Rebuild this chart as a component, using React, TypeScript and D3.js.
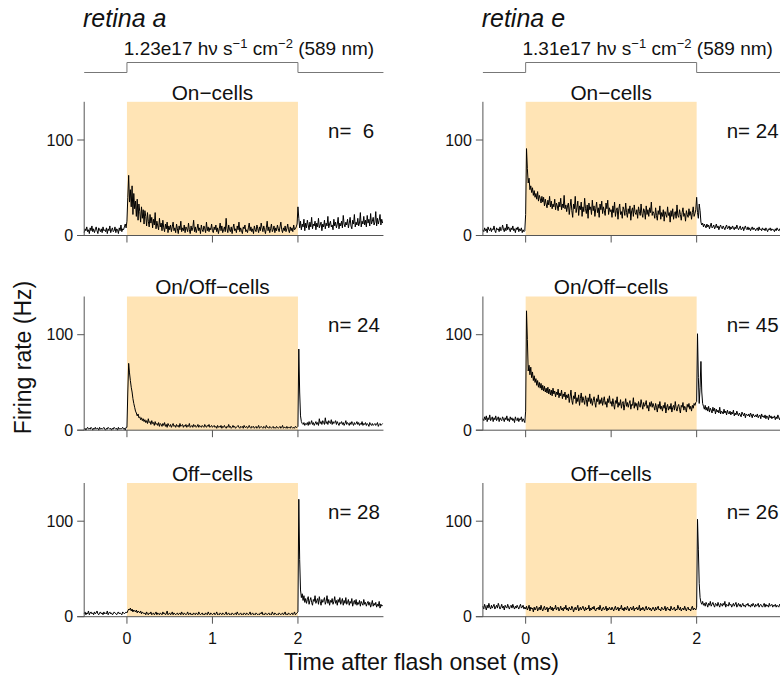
import React from "react";
import * as d3 from "d3";

// ---------- data (firing rate, Hz; 10 ms bins) ----------
const BIN = 0.01;
const cellTypes = ["On\u2212cells", "On/Off\u2212cells", "Off\u2212cells"];
const retinaNames = ["retina a", "retina e"];
const fluxLabels = ["1.23e17", "1.31e17"];
const nA = [6, 24, 28];
const nE = [24, 45, 26];
const xTicks = [0, 1, 2];
const yTicks = [0, 100];

// retina a, On-cells
const preA_on = [3,7,5,9,4,6,2,8,5,10,4,7,3,6,9,5,2,8,6,4,7,3,9,5,6,
  4,8,2,7,5,10,3,6,8,4,5,9,3,7,6,2,8,5,11,4,7,6,9,12,8];
const stimA_on = [15,40,63,35,48,30,52,22,44,28, 36,20,38,16,33,25,14,30,18,27,
  12,26,20,10,24,15,9,22,13,19, 8,17,11,24,7,15,10,6,18,9, 13,5,16,8,4,12,7,14,3,10,
  6,11,4,9,14,5,8,3,12,7, 2,10,6,15,4,8,5,11,3,9, 7,4,13,6,2,10,5,8,16,4, 9,3,7,12,5,8,2,11,6,4, 10,7,3,14,5,9,4,8,6,12,
  5,3,9,6,11,4,8,2,7,13, 5,10,3,6,9,4,18,7,3,11, 6,4,9,2,8,12,5,7,3,10, 6,14,4,8,5,2,9,7,11,4, 6,3,8,13,5,9,4,7,2,10,
  6,4,11,7,3,9,5,13,8,4, 10,6,2,8,15,5,9,3,7,12, 4,6,10,3,8,5,11,7,4,9, 14,6,3,8,5,10,4,7,12,6, 3,9,5,8,4,11,6,7,9,12];
const postA_on = [30,18,8,15,6,12,9,17,5,13, 8,16,11,6,14,9,19,7,12,10, 15,6,13,9,18,8,11,14,5,12,
  9,16,7,13,10,20,8,12,15,9, 11,6,17,10,14,8,12,19,7,13, 10,15,8,21,12,9,14,11,17,8,
  13,19,10,7,16,12,22,9,14,11, 18,10,13,24,9,15,12,20,11,16, 9,21,13,17,10,23,12,15,19,11,
  14,25,10,18,12,16,22,11,17,13];

// retina a, On/Off-cells
const preA_onoff = [1,2,0,2,3,1,2,1,3,2, 0,2,1,3,1,2,2,0,3,1, 2,1,2,3,1,0,2,1,3,2,
  1,2,0,2,1,3,2,1,2,0, 3,1,2,1,2,3,1,2,0,3];
const stimA_onoff = [3,40,70,60,52,45,40,33,28,24, 20,18,15,17,13,14,11,13,10,12,
  9,11,8,10,7,12,8,9,6,10, 7,8,5,9,6,7,5,8,4,7, 6,4,7,5,8,4,6,3,7,5,
  4,6,3,5,7,4,5,3,6,4, 5,3,7,4,5,6,3,5,4,6, 3,5,4,7,3,4,5,3,6,4, 5,3,4,6,3,5,4,3,5,4, 3,6,4,3,5,4,6,3,4,5,
  3,4,5,3,4,2,5,3,4,3, 5,2,4,3,5,3,2,4,3,6, 3,4,2,3,5,3,4,2,3,4, 5,3,2,4,3,4,2,5,3,3, 4,2,3,5,3,2,4,3,4,2,
  3,4,2,3,5,2,3,4,3,2, 4,3,2,5,3,3,2,4,3,2, 3,4,2,3,2,4,3,2,3,4, 2,3,5,2,3,3,2,4,2,3, 3,2,4,3,2,3,2,4,3,3];
const postA_onoff = [4,85,40,15,9,7,6,8,5,7, 6,8,5,9,6,7,10,6,8,5, 7,9,6,8,5,12,7,9,6,10,
  8,6,13,7,9,6,10,8,7,11, 6,9,7,8,10,6,9,7,5,8, 7,9,6,8,5,7,10,6,8,7,
  5,8,6,9,7,5,8,6,7,9, 6,8,5,7,6,9,5,7,6,8, 5,7,6,4,8,6,5,7,5,6, 7,5,6,8,4,6,7,5,6,7];

// retina a, Off-cells
const preA_off = [3,5,2,4,3,6,2,4,5,3, 4,2,5,3,4,6,3,2,4,5, 3,4,2,5,3,4,3,6,2,4,
  5,3,4,2,3,5,4,3,2,4, 5,3,4,3,2,5,4,3,4,5];
const stimA_off = [4,6,8,7,9,6,8,5,7,6, 5,7,4,6,5,4,6,3,5,4,
  3,4,2,5,3,2,4,3,5,2, 3,4,2,3,5,2,4,3,2,4, 3,2,5,3,4,2,3,6,2,3, 4,2,3,5,2,4,3,2,3,4,
  2,3,4,2,5,3,2,4,3,2, 3,5,2,3,4,2,3,2,4,3, 2,4,3,2,5,3,2,3,4,2, 3,2,4,3,2,5,3,2,4,3,
  2,3,4,2,3,5,2,3,2,4, 3,2,4,3,2,3,5,2,3,4, 2,3,2,4,3,2,3,4,2,5, 3,2,3,4,2,3,2,4,3,2, 4,3,2,3,5,2,3,4,2,3,
  2,4,3,2,3,2,4,3,5,2, 3,2,4,3,2,3,4,2,3,2, 5,3,2,4,3,2,3,2,4,3, 2,3,4,2,3,5,2,3,2,4, 3,2,3,4,2,3,5,2,3,4];
const postA_off = [5,123,60,28,20,24,17,22,15,19, 14,18,21,13,17,20,15,12,18,16, 22,14,17,19,13,21,16,12,18,15,
  17,20,13,16,22,14,18,12,17,15, 19,13,16,21,14,17,12,18,15,20, 13,16,19,12,17,14,20,13,15,18,
  12,16,14,19,11,15,17,13,18,12, 15,13,17,11,16,14,12,18,13,15, 11,14,16,12,15,10,13,17,11,14,
  12,15,10,13,11,16,9,13,11,12];

// retina e, On-cells
const preE_on = [6,4,8,5,7,3,9,6,5,8, 4,7,6,10,5,3,8,6,7,4, 9,5,6,11,7,4,8,5,12,6,
  9,7,4,8,6,10,5,7,3,8, 6,9,4,7,5,8,3,6,4,5];
const stimE_on = [22,91,70,55,60,48,52,45,50,42, 47,40,44,38,46,36,42,39,34,41,
  35,40,31,38,33,29,37,32,41,30, 36,28,33,30,38,27,34,31,26,35, 30,39,27,33,29,42,28,32,25,31,
  34,22,30,38,26,19,33,28,41,24, 29,36,21,31,27,35,20,30,25,39, 28,23,32,18,34,27,30,22,37,26, 31,20,28,35,24,29,19,33,27,36, 23,30,26,21,34,28,37,22,29,25,
  27,19,31,24,35,20,26,29,17,28, 33,22,25,18,30,27,21,34,24,19, 28,23,31,16,26,29,20,32,24,22, 27,18,30,25,21,33,23,19,28,26, 17,31,22,27,20,29,24,35,21,25,
  23,18,29,21,16,26,22,31,17,24, 20,27,15,25,22,19,30,21,24,14, 26,20,28,17,23,25,18,32,21,19, 27,22,16,24,29,20,23,15,26,22, 19,28,21,25,17,24,30,20,23,27];
const postE_on = [40,24,18,33,26,14,11,13,9,12, 10,8,12,9,11,7,10,13,8,9, 11,7,9,12,8,10,6,9,11,8,
  7,10,8,6,9,11,7,8,10,6, 9,7,10,8,6,9,7,11,8,6, 8,10,6,7,9,5,8,10,7,6,
  9,6,8,5,7,9,6,8,7,5, 7,8,5,9,6,7,5,8,6,7, 5,8,6,4,7,6,8,5,7,6, 6,4,7,5,8,6,5,7,4,6];

// retina e, On/Off-cells
const preE_onoff = [12,10,14,11,15,9,13,11,16,10, 12,14,9,13,11,15,10,12,14,9, 13,11,10,14,12,9,13,11,15,10,
  12,9,14,11,13,10,12,8,14,11, 10,13,9,12,11,14,9,12,10,8];
const stimE_onoff = [20,125,95,62,68,58,66,55,61,52, 57,50,54,47,52,45,50,44,49,42,
  47,41,46,40,44,39,45,38,43,37, 42,36,44,38,41,35,40,37,43,34, 39,36,42,33,38,35,40,32,37,34,
  38,29,35,42,31,27,36,33,40,28, 34,30,37,26,33,39,29,35,31,27, 36,32,25,34,30,38,28,33,26,31, 35,29,24,33,30,37,27,32,28,34, 26,31,35,27,30,24,33,29,36,28,
  30,25,33,27,22,31,28,35,24,29, 26,32,23,28,30,21,27,33,25,29, 24,28,31,22,27,26,34,23,29,25, 28,21,30,26,24,32,27,22,29,25, 27,31,23,26,20,29,25,30,24,28,
  25,21,28,24,19,27,23,30,22,25, 20,26,23,29,18,24,27,21,25,22, 28,19,24,26,21,30,23,20,25,27, 22,18,26,24,29,21,25,23,19,27, 24,28,22,25,20,26,23,28,26,29];
const postE_onoff = [30,101,55,28,45,72,40,28,25,22, 26,21,24,20,25,19,23,21,18,24, 20,23,17,22,19,21,18,24,17,20,
  19,17,22,18,20,16,21,18,17,20, 16,19,17,21,15,18,16,20,17,15, 18,16,14,19,17,15,18,13,17,16,
  15,17,14,18,16,13,17,15,14,16, 14,17,13,15,16,12,17,14,15,13, 16,12,15,14,11,16,13,15,12,14,
  13,15,11,14,12,16,13,11,14,13];

// retina e, Off-cells
const preE_off = [11,8,13,10,7,12,9,14,10,8, 12,9,11,13,8,10,12,9,14,11, 8,10,13,9,11,7,12,10,9,13,
  10,8,11,12,9,13,10,8,11,9, 12,10,8,11,13,9,10,12,8,10];
const stimE_off = [8,11,7,9,12,6,10,8,9,5, 10,7,9,11,6,8,10,7,12,8, 6,9,11,7,8,10,5,9,8,11,
  7,10,6,9,8,12,7,9,10,6, 8,11,7,9,6,10,8,12,7,9,
  6,10,8,7,11,9,5,8,10,7, 9,12,6,8,10,7,9,11,8,6, 10,7,9,8,12,6,9,7,10,8, 11,7,6,9,8,10,7,12,8,6, 9,10,7,8,11,6,9,7,10,8,
  7,10,8,6,9,11,7,8,10,6, 9,8,12,7,9,6,10,8,7,11, 8,6,9,10,7,8,11,6,9,8, 10,7,8,12,6,9,7,10,8,6, 9,11,7,8,10,7,9,6,8,10,
  8,6,10,7,9,11,7,8,6,10, 9,7,8,11,6,9,10,7,8,6, 11,8,7,9,10,6,8,7,12,9, 7,10,6,8,9,7,11,8,6,9, 10,7,8,6,9,11,7,9,8,7];
const postE_off = [10,102,70,35,20,15,13,16,12,14, 11,15,13,10,14,12,16,11,13,15, 12,10,14,13,11,15,12,10,14,13,
  11,14,12,16,10,13,12,11,15,12, 13,10,12,14,11,13,15,10,12,14, 11,13,10,12,14,11,12,10,13,12,
  14,11,12,10,13,11,14,12,10,13, 11,12,14,10,12,13,11,10,12,14, 10,13,11,12,10,14,11,12,13,10,
  12,11,13,10,12,11,10,13,11,12];

const seriesSegments = [
  [[preA_on, stimA_on, postA_on], [preA_onoff, stimA_onoff, postA_onoff], [preA_off, stimA_off, postA_off]],
  [[preE_on, stimE_on, postE_on], [preE_onoff, stimE_onoff, postE_onoff], [preE_off, stimE_off, postE_off]],
];
const nCounts = [nA, nE];

function buildSeries(segs: number[][]): [number, number][] {
  const starts = [-0.5, 0, 2];
  const out: [number, number][] = [];
  segs.forEach((seg, k) => seg.forEach((v, j) => out.push([starts[k] + j * BIN, v])));
  return out;
}

// ---------- layout ----------
const W = 780, H = 687;
const colDx = [0, 398.7];
const rowY0 = [235.5, 430.2, 616.7];
const PX_PER_HZ = 0.955;
const FONT = "'Liberation Sans', Arial, Helvetica, sans-serif";

export default function App() {
  const x = d3.scaleLinear().domain([-0.5, 3]).range([84.2, 383.45]);
  return (
    <svg width={W} height={H} style={{ position: "absolute", left: 0, top: 0, background: "#fff" }}
      fontFamily={FONT}>
      {colDx.map((dx, ci) => (
        <g key={ci} transform={`translate(${dx},0)`}>
          <text x={83} y={26.5} fontSize={25} fontStyle="italic" fill="#111">{retinaNames[ci]}</text>
          <text x={249} y={55} fontSize={19} textAnchor="middle" fill="#111">
            {fluxLabels[ci] + " h\u03bd s"}
            <tspan dy={-7} fontSize={13}>{"\u22121"}</tspan>
            <tspan dy={7}>{" cm"}</tspan>
            <tspan dy={-7} fontSize={13}>{"\u22122"}</tspan>
            <tspan dy={7}>{" (589 nm)"}</tspan>
          </text>
          <path
            d={`M${x(-0.5)},72.5H${x(0)}V62.5H${x(2)}V72.5H${x(3)}`}
            fill="none" stroke="#777" strokeWidth={1} />
          {rowY0.map((y0, ri) => {
            const y = d3.scaleLinear().domain([0, 140]).range([y0, y0 - 140 * PX_PER_HZ]);
            const data = buildSeries(seriesSegments[ci][ri]);
            const line = d3.line<[number, number]>().x(d => x(d[0])).y(d => y(d[1]));
            const n = nCounts[ci][ri];
            return (
              <g key={ri}>
                <rect x={x(0)} y={y(140)} width={x(2) - x(0)} height={y(0) - y(140)} fill="#FFE4B5" />
                <path d={line(data) || ""} fill="none" stroke="#000" strokeWidth={1} strokeLinejoin="round" />
                <line x1={x(-0.5)} x2={x(-0.5)} y1={y(0)} y2={y(140)} stroke="#555" strokeWidth={1} />
                <line x1={x(-0.5) - 7} x2={x(3)} y1={y(0)} y2={y(0)} stroke="#555" strokeWidth={1} />
                {yTicks.map(t => (
                  <g key={t}>
                    <line x1={x(-0.5) - 7} x2={x(-0.5)} y1={y(t)} y2={y(t)} stroke="#555" strokeWidth={1} />
                    <text x={x(-0.5) - 11} y={y(t) + 5.5} fontSize={16} textAnchor="end" fill="#111">{t}</text>
                  </g>
                ))}
                {xTicks.map(t => (
                  <g key={t}>
                    <line x1={x(t)} x2={x(t)} y1={y(0)} y2={y(0) + 7} stroke="#555" strokeWidth={1} />
                    {ri === 2 && (
                      <text x={x(t)} y={y(0) + 27} fontSize={16} textAnchor="middle" fill="#111">{t}</text>
                    )}
                  </g>
                ))}
                <text x={x(1)} y={y0 - 136} fontSize={20.8} textAnchor="middle" fill="#111">{cellTypes[ri]}</text>
                <text x={328} y={y0 - 98} fontSize={20.5} fill="#111" style={{ whiteSpace: "pre" }}>
                  {"n=" + String(n).padStart(3, " ")}
                </text>
              </g>
            );
          })}
        </g>
      ))}
      <text transform="translate(31,357.5) rotate(-90)" fontSize={23} textAnchor="middle" fill="#111">
        Firing rate (Hz)
      </text>
      <text x={421.5} y={670} fontSize={23.2} textAnchor="middle" fill="#111">
        Time after flash onset (ms)
      </text>
    </svg>
  );
}
